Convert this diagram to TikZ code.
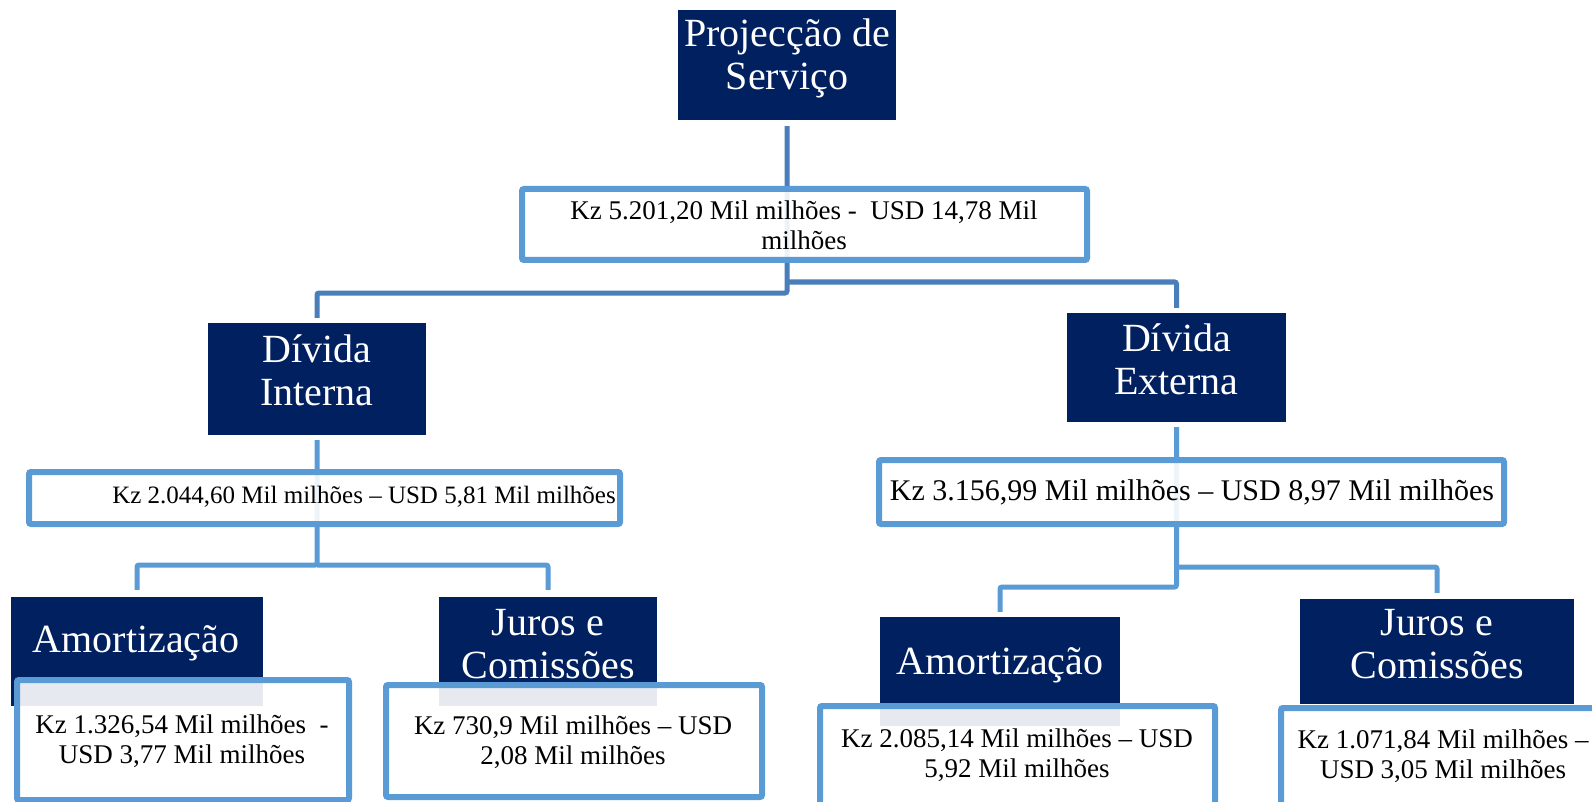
\documentclass[tikz,border=0pt]{standalone}
\usepackage{fontspec}
\setmainfont{Liberation Serif}
\usetikzlibrary{backgrounds}
\definecolor{navy}{RGB}{0,32,96}
\definecolor{lblue}{RGB}{91,155,213}
\definecolor{dblue}{RGB}{74,126,187}
\begin{document}
\begin{tikzpicture}[x=1pt,y=-1pt,
  navybox/.style={fill=navy, draw=none, inner sep=0pt},
  navytext/.style={text=white, align=center, inner sep=0pt, font=\fontsize{40}{43}\selectfont},
  valbox/.style={draw=lblue, line width=6pt, fill=white, fill opacity=0.9, rounded corners=2pt, inner sep=0pt},
  valtext/.style={text=black, align=center, inner sep=0pt, font=\fontsize{27}{30}\selectfont},
  conn1/.style={draw=dblue, line width=5pt, rounded corners=2pt},
  conn2/.style={draw=lblue, line width=5pt, rounded corners=2pt}]
\useasboundingbox (0,0) rectangle (1592,802);
\clip (0,0) rectangle (1592,802);

% navy boxes
\node[navybox, minimum width=218pt, minimum height=110pt] (top) at (787,65) {};
\node[navybox, minimum width=218pt, minimum height=112pt] (dI) at (317,379) {};
\node[navybox, minimum width=219pt, minimum height=109pt] (dE) at (1176.5,367.5) {};
\node[navybox, minimum width=252pt, minimum height=109pt] (amL) at (137,651.5) {};
\node[navybox, minimum width=218pt, minimum height=109pt] (juL) at (548,651.5) {};
\node[navybox, minimum width=240pt, minimum height=109pt] (amR) at (1000,671.5) {};
\node[navybox, minimum width=274pt, minimum height=105pt] (juR) at (1437,651.5) {};

% value boxes
\node[valbox, minimum width=565pt, minimum height=71pt] (v0) at (804.5,224.5) {};
\node[valbox, minimum width=591pt, minimum height=52pt] (v1) at (324.5,498) {};
\node[valbox, minimum width=625pt, minimum height=64pt] (v2) at (1191.5,492) {};
\node[valbox, minimum width=332pt, minimum height=120pt] (v3) at (183,740) {};
\node[valbox, minimum width=376pt, minimum height=112pt] (v4) at (574,741) {};
\node[valbox, minimum width=395pt, minimum height=106pt] (v5) at (1017.5,759) {};
\node[valbox, minimum width=326pt, minimum height=104pt] (v6) at (1444,760) {};

% navy texts
\node[navytext] (topT) at (787,58) {Projecção de\\Serviço};
\node[navytext] (dIT) at (317,370) {Dívida\\Interna};
\node[navytext] (dET) at (1176.5,359) {Dívida\\Externa};
\node[navytext] (amLT) at (136,643) {Amortização};
\node[navytext] (juLT) at (548,644) {Juros e\\Comissões};
\node[navytext] (amRT) at (1000,665) {Amortização};
\node[navytext] (juRT) at (1437,644) {Juros e\\Comissões};

% value texts
\node[valtext] (v0T) at (804,225) {Kz 5.201,20 Mil milhões -\ \ USD 14,78 Mil\\milhões};
\node[valtext, anchor=east, font=\fontsize{25}{28}\selectfont] (v1T) at (616,497) {Kz 2.044,60 Mil milhões – USD 5,81 Mil milhões};
\node[valtext, font=\fontsize{30}{33}\selectfont] (v2T) at (1192,492) {Kz 3.156,99 Mil milhões – USD 8,97 Mil milhões};
\node[valtext] (v3T) at (182,741) {Kz 1.326,54 Mil milhões\ \ -\\USD 3,77 Mil milhões};
\node[valtext] (v4T) at (573,742) {Kz 730,9 Mil milhões – USD\\2,08 Mil milhões};
\node[valtext] (v5T) at (1017,755) {Kz 2.085,14 Mil milhões – USD\\5,92 Mil milhões};
\node[valtext] (v6T) at (1443,756) {Kz 1.071,84 Mil milhões –\\USD 3,05 Mil milhões};

\begin{scope}[on background layer]
\fill[white] (0,0) rectangle (1592,802);
\draw[conn1, shorten <=6pt, shorten >=5pt] (top.south) -- (top.south |- 0,293) -| (dI.north);
\draw[conn1, shorten >=5pt] (top.south |- 0,282) -| (dE.north);
\draw[conn2, shorten <=5pt, shorten >=7pt] (dI.south) -- (dI.south |- 0,565) -| (amL.north);
\draw[conn2, shorten >=7pt] (dI.south |- 0,565) -| (juL.north);
\draw[conn2, shorten <=5pt, shorten >=5pt] (dE.south) -- (dE.south |- 0,587) -| (amR.north);
\draw[conn2, shorten >=6pt] (dE.south |- 0,567) -| (juR.north);
\end{scope}
\end{tikzpicture}
\end{document}
